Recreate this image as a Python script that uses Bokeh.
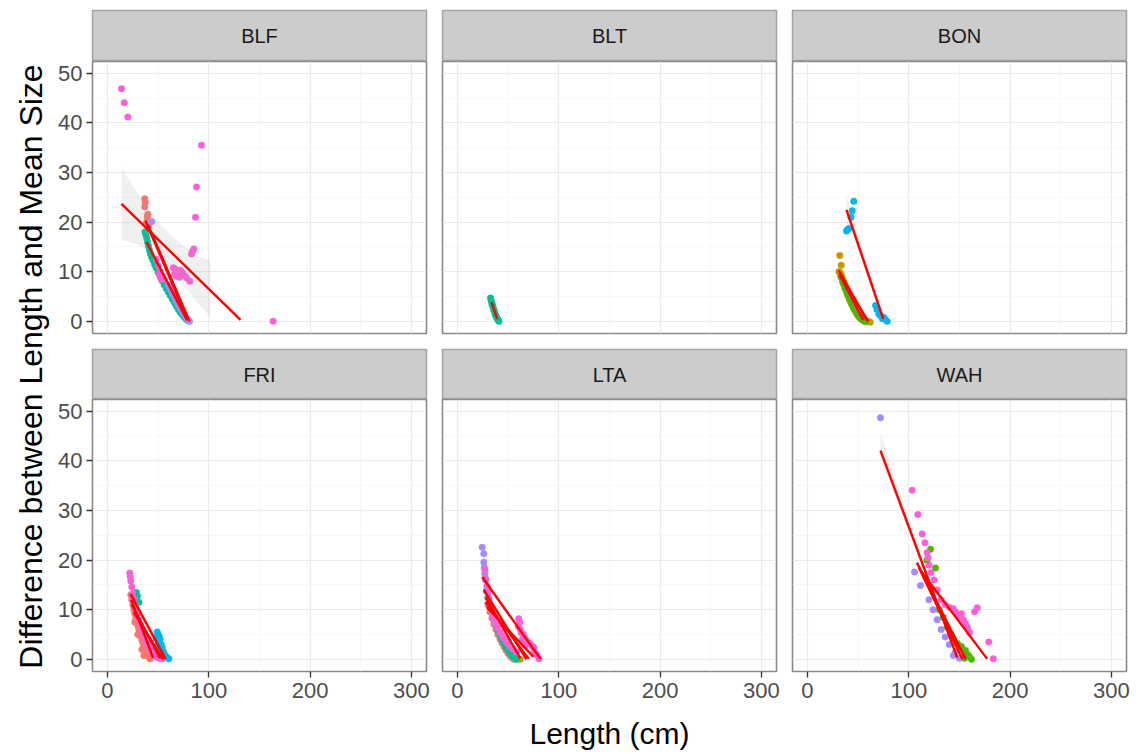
import math
from bokeh.plotting import figure
from bokeh.layouts import row, column
from bokeh.models import Range1d, FixedTicker, ColumnDataSource, LinearAxis, Grid
from bokeh.core.properties import value
from bokeh.embed import file_html
from bokeh.resources import INLINE

# ---------------- data ----------------
PALETTE = ["#F8766D", "#C49A00", "#53B400", "#00C094", "#00B6EB", "#A58AFF", "#FB61D7"]
FACETS = ["BLF", "BLT", "BON", "FRI", "LTA", "WAH"]
X_TICKS = [0, 100, 200, 300]
X_MINOR = [50, 150, 250]
Y_TICKS = [0, 10, 20, 30, 40, 50]
Y_MINOR = [5, 15, 25, 35, 45]
X_LABEL = "Length (cm)"
Y_LABEL = "Difference between Length and Mean Size"

# BLF
BLF_x = [36.8, 37.3, 36.8, 39.8, 39.3, 38.5, 40.5,
         37.0, 38.0, 38.8, 39.5, 40.5, 41.5, 42.5, 43.5, 45.0, 46.5, 48.0, 50.0, 52.0, 54.0, 56.0, 58.0,
         60.0, 62.0, 64.0, 66.0, 68.0, 70.0, 72.0, 74.0, 76.0, 78.0, 79.5,
         43.5, 60.0, 62.0, 64.0, 66.0, 68.0, 70.0, 72.0, 74.0, 76.0, 78.0, 80.0, 81.0,
         13.8, 16.5, 20.1, 92.8, 87.9, 86.9, 85.2, 84.0, 83.0,
         65.0, 67.0, 69.0, 70.0, 72.0, 74.0, 76.0, 78.0, 68.0, 71.0, 81.3, 66.0,
         48.0, 50.0, 52.0, 54.0, 56.0, 51.0, 53.0, 163.6]
BLF_y = [24.7, 24.0, 23.1, 21.6, 21.0, 20.0, 19.2,
         18.0, 17.4, 16.8, 16.0, 15.2, 14.3, 13.6, 13.0, 12.3, 11.5, 10.8, 9.9, 9.0, 8.2, 7.4, 6.6,
         5.9, 5.2, 4.5, 3.8, 3.1, 2.4, 1.8, 1.3, 0.8, 0.4, 0.1,
         20.1, 7.3, 6.4, 5.6, 4.8, 4.0, 3.3, 2.6, 1.9, 1.3, 0.7, 0.2, 0.0,
         46.9, 44.1, 41.2, 35.5, 27.1, 21.0, 14.6, 14.1, 13.6,
         10.8, 10.5, 10.0, 9.6, 10.3, 9.8, 9.2, 8.8, 9.1, 8.9, 8.1, 9.5,
         12.5, 11.2, 10.0, 9.2, 8.4, 9.6, 8.6, 0.0]
BLF_g = [0] * 7 + [3] * 27 + [5] * 13 + [6] * 30
BLF_lx0 = [13.8, 37.5, 38.5, 40.0]
BLF_ly0 = [23.7, 20.3, 16.0, 19.5]
BLF_lx1 = [131.3, 78.7, 78.7, 81.0]
BLF_ly1 = [0.3, 0.5, 0.2, 0.0]
BLF_bx = [13.8, 30.0, 49.0, 70.0, 90.0, 101.7]
BLF_blo = [16.5, 15.5, 13.2, 8.5, 3.5, 0.9]
BLF_bhi = [31.0, 25.8, 20.2, 16.0, 13.0, 12.3]

# BLT
BLT_x = [34.5, 36.0, 37.5, 32.6, 33.2, 34.0, 35.0, 35.8, 36.8, 37.8, 38.8, 40.0, 40.8]
BLT_y = [3.3, 2.2, 1.3, 4.7, 4.2, 3.6, 3.0, 2.4, 1.8, 1.2, 0.7, 0.3, 0.0]
BLT_g = [0] * 3 + [3] * 10
BLT_lx0 = [33.6]
BLT_ly0 = [3.9]
BLT_lx1 = [39.2]
BLT_ly1 = [0.5]
BLT_bx = []
BLT_blo = []
BLT_bhi = []

# BON
BON_x = [31.0, 32.5, 34.5, 36.5, 38.5, 40.5, 42.5, 44.5, 46.5, 48.5, 50.5, 52.5,
         31.9, 33.3, 31.5, 33.0, 34.0, 35.0, 36.0, 37.0, 38.0, 39.0, 40.0, 41.0, 42.0, 43.0, 44.0,
         45.0, 46.0, 47.0, 48.0, 50.0, 52.0, 54.0, 56.0, 58.0, 60.0, 62.0,
         33.5, 35.5, 37.5, 39.5, 41.5, 43.5, 45.5, 47.5, 49.5, 51.5, 53.5, 55.5, 57.5,
         45.7, 44.1, 43.0, 40.8, 38.5, 39.5, 67.2, 68.5, 70.4, 72.0, 75.3, 76.5, 78.7, 74.0]
BON_y = [10.0, 9.2, 8.0, 6.9, 5.9, 4.9, 4.0, 3.1, 2.3, 1.6, 1.0, 0.5,
         13.3, 11.3, 10.0, 9.6, 9.0, 8.4, 7.9, 7.3, 6.8, 6.2, 5.7, 5.2, 4.7, 4.2, 3.7,
         3.2, 2.8, 2.3, 1.9, 1.4, 0.9, 0.6, 0.3, 0.1, 0.0, -0.2,
         8.8, 7.6, 6.5, 5.4, 4.4, 3.5, 2.7, 2.0, 1.3, 0.8, 0.4, 0.1, -0.1,
         24.2, 22.3, 21.0, 18.7, 18.2, 18.5, 3.2, 2.4, 1.5, 1.2, 0.8, 0.4, 0.0, 0.5]
BON_g = [0] * 12 + [1] * 26 + [2] * 13 + [4] * 14
BON_lx0 = [38.5, 30.9, 31.5, 33.0]
BON_ly0 = [22.5, 10.3, 9.5, 8.8]
BON_lx1 = [74.8, 58.8, 55.0, 60.0]
BON_ly1 = [0.5, 0.2, 0.3, 0.0]
BON_bx = [38.5, 50.0, 62.0, 74.8]
BON_blo = [20.0, 14.6, 7.2, -0.8]
BON_bhi = [25.5, 17.2, 9.3, 2.0]

# FRI
FRI_x = [23.0, 24.0, 25.0, 26.0, 27.0, 28.0, 29.0, 30.0, 31.0, 32.0, 33.0, 34.0, 35.0, 36.0, 37.0,
         38.0, 39.0, 40.0, 41.0, 42.0, 27.0, 30.0, 34.0, 36.0,
         28.5, 29.5, 31.0,
         49.1, 50.0, 51.0, 48.0, 52.0, 50.5, 53.0, 49.5, 54.0, 51.5, 55.0, 56.0, 57.0, 58.5, 60.6, 53.0,
         22.0, 22.5, 23.0, 24.0, 25.0, 26.0, 27.0, 28.0, 29.5, 31.0, 32.5, 34.0, 35.5, 37.0, 39.0,
         41.0, 43.0, 45.0, 47.0, 49.0, 51.0, 54.0]
FRI_y = [13.0, 12.0, 11.0, 10.0, 9.2, 8.4, 7.6, 6.8, 6.0, 5.3, 4.6, 3.9, 3.3, 2.7, 2.1,
         1.6, 1.1, 0.7, 0.4, 0.1, 7.5, 5.0, 2.0, 0.8,
         13.5, 12.8, 11.5,
         5.5, 5.0, 4.6, 4.2, 4.0, 3.5, 3.0, 2.8, 2.4, 2.0, 1.6, 1.1, 0.7, 0.4, 0.1, 1.2,
         17.4, 16.6, 15.8, 14.6, 13.3, 12.1, 11.0, 10.0, 9.0, 8.0, 7.0, 6.0, 5.1, 4.3, 3.4,
         2.6, 1.9, 1.3, 0.8, 0.4, 0.2, 0.1]
FRI_g = [0] * 24 + [3] * 3 + [4] * 16 + [6] * 22
FRI_lx0 = [22.7, 23.5, 24.0, 26.0]
FRI_ly0 = [13.2, 12.0, 11.0, 9.5]
FRI_lx1 = [57.3, 45.0, 52.0, 55.0]
FRI_ly1 = [0.1, 0.3, 0.2, 0.0]
FRI_bx = []
FRI_blo = []
FRI_bhi = []

# LTA
LTA_x = [30.0, 32.0, 34.0, 36.0, 38.0, 40.0, 42.0, 44.0, 46.0, 48.0, 50.0, 52.0, 54.0, 56.0,
         55.0, 59.0, 62.0,
         28.5, 30.0, 32.0, 34.0, 36.0, 38.0, 40.0, 42.0, 44.0, 46.0, 48.0, 50.0, 52.0, 54.0, 56.0, 58.0,
         24.4, 26.0, 26.0, 26.5, 27.0, 27.5,
         27.0, 28.0, 29.0, 30.0, 31.0, 32.0, 33.0, 34.0, 35.0, 36.5, 38.0, 40.0, 42.0, 44.0, 46.0,
         48.0, 50.0, 52.0, 55.0, 58.0,
         60.5, 61.5, 60.0, 62.0, 63.0, 65.0, 66.0, 68.0, 70.0, 72.0, 74.0, 75.3, 76.0, 78.0, 80.3,
         64.0, 67.0]
LTA_y = [11.0, 9.6, 8.3, 7.1, 6.0, 5.0, 4.1, 3.3, 2.5, 1.8, 1.2, 0.7, 0.3, 0.0,
         0.8, 0.1, 0.0,
         13.8, 12.4, 10.8, 9.4, 8.1, 6.9, 5.8, 4.8, 3.9, 3.1, 2.4, 1.8, 1.2, 0.7, 0.3, 0.0,
         22.6, 21.3, 19.6, 18.5, 17.2, 16.0,
         18.0, 16.2, 14.8, 13.5, 12.3, 11.2, 10.3, 9.5, 8.7, 7.9, 7.1, 6.3, 5.5, 4.8, 4.2,
         3.6, 3.1, 2.6, 2.0, 1.5,
         8.2, 7.5, 6.6, 6.0, 5.3, 5.0, 4.4, 3.8, 3.4, 3.0, 2.6, 2.45, 1.7, 1.0, 0.1,
         4.0, 2.8]
LTA_g = [0] * 14 + [1] * 3 + [3] * 16 + [5] * 6 + [6] * 37
LTA_lx0 = [24.4, 27.6, 28.0, 29.0, 26.0]
LTA_ly0 = [16.6, 11.6, 12.5, 10.5, 14.0]
LTA_lx1 = [81.9, 70.4, 62.0, 75.0, 68.0]
LTA_ly1 = [0.1, 0.1, 0.2, 0.5, 0.0]
LTA_bx = []
LTA_blo = []
LTA_bhi = []

# WAH
WAH_x = [121.5, 126.4, 118.0, 124.0, 130.0, 134.0, 138.0, 142.0, 144.0, 148.0, 152.0, 156.0, 158.0,
         160.0, 162.0, 155.0,
         72.1, 105.7, 111.6, 120.0, 124.0, 128.0, 132.0, 136.0, 140.0, 146.0, 150.0, 144.0,
         103.4, 109.0, 113.3, 116.0, 118.0, 119.0, 120.0, 122.0, 125.0, 128.0, 132.0, 136.0, 140.0,
         144.0, 146.0, 148.0, 150.0, 152.0, 154.0, 156.0, 158.0, 167.6, 165.0, 160.0, 179.0, 183.4]
WAH_y = [22.2, 18.4, 20.0, 14.0, 10.0, 8.5, 6.5, 5.0, 4.2, 3.2, 2.6, 1.8, 1.0,
         0.5, 0.0, 0.2,
         48.7, 17.6, 14.9, 12.0, 10.0, 8.0, 6.0, 4.5, 3.0, 1.5, 0.2, 0.8,
         34.1, 29.2, 25.3, 23.5, 21.5, 20.5, 19.0, 17.5, 16.0, 14.0, 12.0, 11.0, 10.5,
         10.2, 9.6, 9.0, 8.6, 9.2, 8.0, 7.2, 6.4, 10.4, 9.6, 5.4, 3.5, 0.1]
WAH_g = [2] * 16 + [5] * 12 + [6] * 26
WAH_lx0 = [72.1, 108.0, 110.0, 112.0]
WAH_ly0 = [42.1, 19.5, 18.5, 17.8]
WAH_lx1 = [147.8, 156.0, 153.0, 177.4]
WAH_ly1 = [0.4, 0.1, 0.0, 0.1]
WAH_bx = [72.1, 90.0, 110.0, 130.0, 147.8]
WAH_blo = [40.0, 31.5, 20.5, 10.0, -0.5]
WAH_bhi = [45.5, 34.0, 22.0, 11.8, 1.8]

DATA = {
    "BLF": (BLF_x, BLF_y, BLF_g, BLF_lx0, BLF_ly0, BLF_lx1, BLF_ly1, BLF_bx, BLF_blo, BLF_bhi),
    "BLT": (BLT_x, BLT_y, BLT_g, BLT_lx0, BLT_ly0, BLT_lx1, BLT_ly1, BLT_bx, BLT_blo, BLT_bhi),
    "BON": (BON_x, BON_y, BON_g, BON_lx0, BON_ly0, BON_lx1, BON_ly1, BON_bx, BON_blo, BON_bhi),
    "FRI": (FRI_x, FRI_y, FRI_g, FRI_lx0, FRI_ly0, FRI_lx1, FRI_ly1, FRI_bx, FRI_blo, FRI_bhi),
    "LTA": (LTA_x, LTA_y, LTA_g, LTA_lx0, LTA_ly0, LTA_lx1, LTA_ly1, LTA_bx, LTA_blo, LTA_bhi),
    "WAH": (WAH_x, WAH_y, WAH_g, WAH_lx0, WAH_ly0, WAH_lx1, WAH_ly1, WAH_bx, WAH_blo, WAH_bhi),
}

# ---------------- style / layout ----------------
FONT = "Liberation Sans"
FRAME_W = 334
FRAME_H = 272
LEFT_AXIS = 40
YLAB_W = 52
BOTTOM_AXIS = 42
XLAB_H = 40
OUTLINE = "#8A8A8A"

x_rng = Range1d(-14.8, 315)
y_rng = Range1d(-2.45, 52.4)


def drop_grids(f):
    f.center = [r for r in f.center if not isinstance(r, Grid)]


def make_strip(name, col, top):
    ml = LEFT_AXIS if col == 0 else 8
    frame_h = 51 if top == 10 else 50
    s = figure(width=ml + FRAME_W + 8, height=top + frame_h,
               x_range=Range1d(0, 1), y_range=Range1d(0, 1),
               x_axis_location=None, y_axis_location=None,
               toolbar_location=None, output_backend="svg",
               min_border_left=ml, min_border_right=8, min_border_top=top, min_border_bottom=0,
               background_fill_color="#CCCCCC", border_fill_color="white",
               outline_line_color="#A3A3A3", outline_line_width=1.5)
    drop_grids(s)
    s.text(x=[0.5], y=[0.5], text=[name], text_font=value(FONT), text_font_size=value("20px"),
           text_color="#1A1A1A", text_align="center", text_baseline="middle")
    return s


def style_axis(a, standoff):
    a.axis_line_color = None
    a.major_tick_line_color = "#333333"
    a.major_tick_line_width = 1.3
    a.major_tick_out = 6
    a.major_tick_in = 0
    a.minor_tick_line_color = None
    a.major_label_text_font = FONT
    a.major_label_text_font_size = "22px"
    a.major_label_text_color = "#4D4D4D"
    a.major_label_standoff = standoff


def make_panel(name, col, rowi):
    ml = LEFT_AXIS if col == 0 else 8
    mb = BOTTOM_AXIS if rowi == 1 else 8
    p = figure(width=ml + FRAME_W + 8, height=FRAME_H + mb,
               x_range=x_rng, y_range=y_rng,
               x_axis_location=None, y_axis_location=None,
               toolbar_location=None, output_backend="svg",
               min_border_left=ml, min_border_right=8, min_border_top=0, min_border_bottom=mb,
               background_fill_color="white", border_fill_color="white",
               outline_line_color=OUTLINE, outline_line_width=1.6)
    drop_grids(p)
    gx = Grid(dimension=0, ticker=FixedTicker(ticks=X_TICKS, minor_ticks=X_MINOR),
              grid_line_color="#EBEBEB", grid_line_width=1.2,
              minor_grid_line_color="#F4F4F4", minor_grid_line_width=0.7)
    gy = Grid(dimension=1, ticker=FixedTicker(ticks=Y_TICKS, minor_ticks=Y_MINOR),
              grid_line_color="#EBEBEB", grid_line_width=1.2,
              minor_grid_line_color="#F4F4F4", minor_grid_line_width=0.7)
    p.add_layout(gx)
    p.add_layout(gy)
    if col == 0:
        ay = LinearAxis(ticker=FixedTicker(ticks=Y_TICKS))
        style_axis(ay, 4)
        p.add_layout(ay, "left")
    if rowi == 1:
        ax = LinearAxis(ticker=FixedTicker(ticks=X_TICKS))
        style_axis(ax, 5)
        p.add_layout(ax, "below")

    xs, ys, gs, lx0, ly0, lx1, ly1, bx, blo, bhi = DATA[name]
    src = ColumnDataSource(dict(x=xs, y=ys, c=[PALETTE[g] for g in gs]))
    p.scatter("x", "y", source=src, size=6.5, fill_color="c", line_color="c", line_width=0.5)
    if bx:
        p.varea(x=bx, y1=blo, y2=bhi, fill_color="#999999", fill_alpha=0.15)
    p.segment(x0=lx0, y0=ly0, x1=lx1, y1=ly1, line_color="#FF0000", line_width=2.4)
    return p


cols = []
for c in range(3):
    top_name = FACETS[c]
    bot_name = FACETS[c + 3]
    cols.append(column(make_strip(top_name, c, 10), make_panel(top_name, c, 0),
                       make_strip(bot_name, c, 8), make_panel(bot_name, c, 1), spacing=0))

grid_h = (10 + 51) + (FRAME_H + 8) + (8 + 50) + (FRAME_H + BOTTOM_AXIS)

ylab = figure(width=YLAB_W, height=grid_h, x_range=Range1d(0, YLAB_W), y_range=Range1d(0, grid_h),
              x_axis_location=None, y_axis_location=None, toolbar_location=None,
              output_backend="svg", min_border=0, outline_line_color=None)
drop_grids(ylab)
ylab.text(x=[30], y=[grid_h - 366], text=[Y_LABEL], angle=math.pi / 2,
          text_font=value(FONT), text_font_size=value("32px"), text_color="black",
          text_align="center", text_baseline="middle")

total_w = YLAB_W + (LEFT_AXIS + FRAME_W + 8) + 2 * (FRAME_W + 16)
xlab = figure(width=total_w, height=XLAB_H, x_range=Range1d(0, total_w), y_range=Range1d(0, XLAB_H),
              x_axis_location=None, y_axis_location=None, toolbar_location=None,
              output_backend="svg", min_border=0, outline_line_color=None)
drop_grids(xlab)
frame_center = (YLAB_W + LEFT_AXIS + total_w - 8) / 2
xlab.text(x=[frame_center], y=[20], text=[X_LABEL],
          text_font=value(FONT), text_font_size=value("30px"), text_color="black",
          text_align="center", text_baseline="middle")

layout = column(row(ylab, *cols, spacing=0), xlab, spacing=0)

open("out.html", "w").write(file_html(layout, INLINE))
